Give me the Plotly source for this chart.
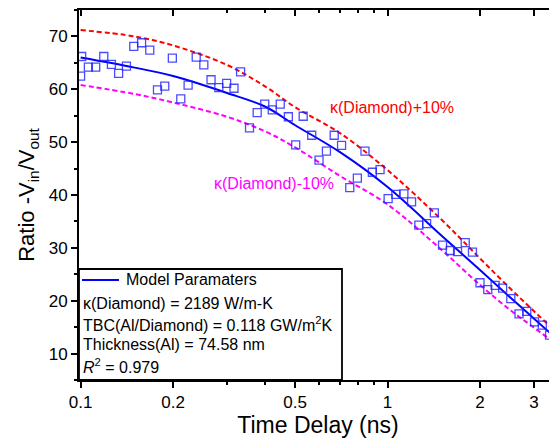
import plotly.graph_objects as go

# ---- data ----
t_meas = [0.1008, 0.1, 0.106, 0.112, 0.119, 0.126, 0.133, 0.141, 0.149, 0.158, 0.168,
          0.178, 0.188, 0.199, 0.212, 0.224, 0.238, 0.252, 0.266, 0.282, 0.299, 0.316,
          0.332, 0.355, 0.376, 0.398, 0.421, 0.447, 0.475, 0.502, 0.531, 0.566, 0.598,
          0.632, 0.670, 0.708, 0.753, 0.797, 0.844, 0.892, 0.945, 1.004, 1.064, 1.13,
          1.197, 1.264, 1.34, 1.42, 1.51, 1.6, 1.69, 1.79, 1.89, 2.0, 2.12, 2.24, 2.37,
          2.52, 2.68, 2.84, 3.01, 3.19, 3.37, 3.55]
ratio_meas = [66.2, 62.5, 64.2, 64.2, 66.2, 64.7, 63.0, 64.4, 68.1, 68.8, 67.4,
              59.9, 60.6, 65.9, 58.2, 60.8, 66.1, 64.6, 61.8, 60.3, 61.1, 60.2,
              63.3, 52.7, 55.6, 57.2, 56.1, 57.2, 54.8, 49.5, 54.9, 51.3, 46.6,
              48.3, 51.3, 49.4, 41.4, 43.2, 48.3, 44.3, 44.8, 39.3, 40.1, 40.2,
              38.7, 34.3, 34.6, 36.6, 30.5, 29.5, 29.3, 31.0, 29.2, 23.4, 22.1, 22.9, 22.4,
              20.4, 17.5, 18.0, 16.0, 15.4, 13.5, 10.6]

t_model = [0.1, 0.15, 0.2, 0.3, 0.4, 0.5, 0.7, 1.0, 1.5, 2.0, 2.5, 3.0, 3.6]
model_fit = [66.0, 64.1, 62.5, 59.3, 56.7, 53.2, 48.1, 41.5, 32.3, 25.8, 20.7, 16.6, 12.5]
model_plus10 = [71.2, 70.0, 68.3, 64.6, 60.5, 56.6, 51.7, 44.7, 35.3, 28.0, 22.4, 18.0, 13.7]
model_minus10 = [60.8, 59.1, 57.5, 54.8, 52.0, 49.0, 43.6, 38.2, 29.6, 23.0, 18.3, 14.9, 11.5]

x_major = [0.1, 0.2, 0.5, 1, 2, 3]
x_major_text = ["0.1", "0.2", "0.5", "1", "2", "3"]
x_minor = [0.3, 0.4, 0.6, 0.7, 0.8, 0.9, 4]
y_major = [10, 20, 30, 40, 50, 60, 70]

legend_lines = [
    "κ(Diamond) = 2189 W/m-K",
    "TBC(Al/Diamond) = 0.118 GW/m<sup>2</sup>K",
    "Thickness(Al) = 74.58 nm",
    "<i>R</i><sup>2</sup> = 0.979",
]

FONT = "Liberation Sans, Arial, sans-serif"
XR = [-1.0052, 0.5518]
YR = [5, 75]

fig = go.Figure()
fig.add_trace(go.Scatter(x=t_model, y=model_plus10, mode="lines", line_shape="spline",
                         line=dict(color="#ff0000", width=2, dash="5px,3px"), showlegend=False))
fig.add_trace(go.Scatter(x=t_model, y=model_minus10, mode="lines", line_shape="spline",
                         line=dict(color="#ff00ff", width=2, dash="5px,3px"), showlegend=False))
fig.add_trace(go.Scatter(x=t_model, y=model_fit, mode="lines", line_shape="spline",
                         line=dict(color="#0000ff", width=2), showlegend=False))
fig.add_trace(go.Scatter(x=t_meas, y=ratio_meas, mode="markers",
                         marker=dict(symbol="square-open", size=8, color="rgba(30,30,255,0.8)",
                                     line=dict(width=1.3)), showlegend=False))
# helper trace for mirror axes
fig.add_trace(go.Scatter(x=[1], y=[40], xaxis="x2", yaxis="y2", mode="markers",
                         marker=dict(opacity=0), showlegend=False, hoverinfo="skip"))

axis_font = dict(family=FONT, size=17, color="black")
fig.update_layout(
    width=549, height=430,
    margin=dict(l=71, r=0, t=2, b=58),
    paper_bgcolor="white", plot_bgcolor="white",
    font=dict(family=FONT, color="black"),
    xaxis=dict(type="log", range=XR, showgrid=False, zeroline=False,
               showline=True, linecolor="black", linewidth=2,
               ticks="outside", ticklen=6, tickwidth=1.5, tickcolor="black",
               tickmode="array", tickvals=x_major, ticktext=x_major_text,
               tickfont=axis_font,
               minor=dict(tickmode="array", tickvals=x_minor, ticks="outside",
                          ticklen=3, tickwidth=1.5, tickcolor="black", showgrid=False),
               title=dict(text="Time Delay (ns)", font=dict(family=FONT, size=23), standoff=5)),
    yaxis=dict(range=YR, showgrid=False, zeroline=False,
               showline=True, linecolor="black", linewidth=2,
               ticks="outside", ticklen=6, tickwidth=1.5, tickcolor="black",
               tickmode="array", tickvals=y_major, tickfont=axis_font,
               minor=dict(dtick=5, ticks="outside", ticklen=3, tickwidth=1.5,
                          tickcolor="black", showgrid=False),
               title=dict(text="Ratio -V<sub>in</sub>/V<sub>out</sub>",
                          font=dict(family=FONT, size=22), standoff=8)),
    xaxis2=dict(type="log", range=XR, overlaying="x", side="top", anchor="y2",
                showgrid=False, zeroline=False, showline=True, linecolor="black", linewidth=2,
                ticks="inside", ticklen=6, tickwidth=1.5, tickcolor="black",
                tickmode="array", tickvals=x_major, showticklabels=False,
                minor=dict(tickmode="array", tickvals=x_minor, ticks="inside",
                           ticklen=3, tickwidth=1.5, tickcolor="black", showgrid=False)),
    yaxis2=dict(range=YR, overlaying="y", side="right", anchor="x2",
                showgrid=False, zeroline=False, showline=False,
                ticks="inside", ticklen=6, tickwidth=1.5, tickcolor="black",
                tickmode="array", tickvals=y_major, showticklabels=False,
                minor=dict(dtick=5, ticks="inside", ticklen=3, tickwidth=1.5,
                           tickcolor="black", showgrid=False)),
)

# legend box
fig.add_shape(type="rect", xref="paper", yref="paper", x0=0, x1=0.5502, y0=0, y1=0.3,
              line=dict(color="black", width=1.8), fillcolor="rgba(0,0,0,0)")
fig.add_shape(type="line", xref="paper", yref="paper", x0=0.0063, x1=0.0837, y0=0.2703, y1=0.2703,
              line=dict(color="#0000ff", width=2))
fig.add_annotation(xref="paper", yref="paper", x=0.0941, y=0.2703, xanchor="left", yanchor="middle",
                   text="Model Paramaters", showarrow=False, font=dict(family=FONT, size=16))
for txt, yy in zip(legend_lines, [0.2081, 0.1514, 0.0946, 0.0378]):
    fig.add_annotation(xref="paper", yref="paper", x=0.0042, y=yy, xanchor="left", yanchor="middle",
                       text=txt, showarrow=False, font=dict(family=FONT, size=16))

fig.add_annotation(xref="paper", yref="paper", x=0.5209, y=0.7378, xanchor="left", yanchor="middle",
                   text="κ(Diamond)+10%", showarrow=False, font=dict(family=FONT, size=16, color="#ff0000"))
fig.add_annotation(xref="paper", yref="paper", x=0.2782, y=0.5324, xanchor="left", yanchor="middle",
                   text="κ(Diamond)-10%", showarrow=False, font=dict(family=FONT, size=16, color="#ff00ff"))

fig.write_html("out.html")
